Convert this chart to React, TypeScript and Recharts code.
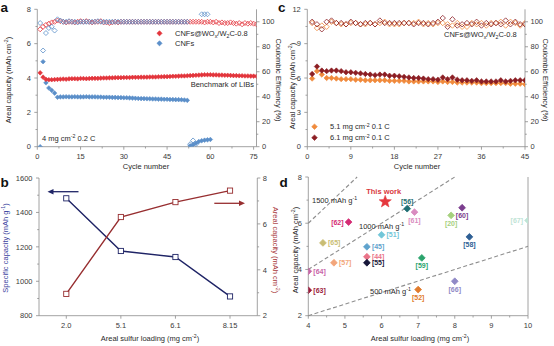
import React from 'react';
import { ComposedChart, ScatterChart, Scatter, Line, XAxis, YAxis, ReferenceLine } from 'recharts';

const FONT = '"Liberation Sans", Arial, Helvetica, sans-serif';
const AXIS_COLOR = '#8a8a8a';
const TICK_TEXT = '#3a3a3a';
const TS = 7.5;

// ---------------- Panel a data ----------------
const aWoCapacity = [
  4.3, 4.05, 3.92, 3.9, 3.9, 3.91, 3.92, 3.93, 3.94, 3.93,
  3.95, 3.96, 3.96, 3.95, 3.97, 3.97, 3.96, 3.97, 3.98, 3.98,
  3.98, 3.99, 4.0, 4.0, 4.01, 4.01, 4.02, 4.02, 4.02, 4.03,
  4.03, 4.03, 4.04, 4.04, 4.04, 4.05, 4.05, 4.05, 4.06, 4.06,
  4.06, 4.07, 4.07, 4.08, 4.08, 4.09, 4.1, 4.1, 4.11, 4.12,
  4.12, 4.13, 4.14, 4.15, 4.16, 4.17, 4.18, 4.19, 4.19, 4.19,
  4.18, 4.18, 4.17, 4.17, 4.16, 4.16, 4.15, 4.14, 4.14, 4.13,
  4.13, 4.12, 4.12, 4.11, 4.11, 4.1,
];
const aWoCE = [
  94, 96, 97.5, 98.5, 99.5, 100, 101, 100.5, 100, 99.5,
  100, 100, 99.5, 100, 100.5, 100, 100.5, 100, 99.5, 100,
  100, 100.5, 99.5, 99.5, 99, 99.5, 100, 99.5, 100, 100,
  100, 100, 100, 100, 100, 100, 100, 100, 100, 100,
  100, 100, 100, 100, 100, 100, 100, 100, 100, 100,
  100, 100, 100, 100, 100, 100, 100, 99.5, 100, 100,
  99.5, 100, 99, 99.5, 99, 99, 99.5, 99, 98.5, 99,
  98, 99, 98.5, 99, 98.5, 98,
];
const aCnfCapacity = [
  0, 4.95, 3.72, 3.42, 3.28, 3.12, 2.88, 2.9, 2.9, 2.91,
  2.9, 2.9, 2.91, 2.9, 2.9, 2.9, 2.91, 2.9, 2.9, 2.9,
  2.89, 2.89, 2.88, 2.88, 2.88, 2.87, 2.87, 2.86, 2.86, 2.85,
  2.85, 2.84, 2.83, 2.82, 2.81, 2.8, 2.8, 2.79, 2.79, 2.78,
  2.78, 2.77, 2.77, 2.76, 2.76, 2.75, 2.75, 2.74, 2.74, 2.73,
  2.72, 2.7,
];
const aCnfCE = [
  99, 77, 91, 95, 96, 93, 102, 101, 100, 100,
  100.5, 100, 100, 99.5, 100, 100, 100, 100, 100, 100,
  100.5, 100, 100, 100, 100, 100, 100, 100, 100, 100,
  100, 100, 100, 100, 100, 100, 100, 100, 100, 100,
  100, 100, 100, 100, 100, 100, 100, 100, 100, 100,
  100, 100,
];
const aCnfTailCycles = [53, 54, 55, 56, 57, 58, 59, 60];
const aCnfTailCapacity = [0.05, 0.12, 0.2, 0.3, 0.35, 0.38, 0.4, 0.42];
const aCnfTailCECycles = [53, 54, 55, 57, 58, 59];
const aCnfTailCE = [2, 5, 2, 106, 106, 106];

const aCycleTicks = [0, 15, 30, 45, 60, 75];
const aCycleMinor = [7.5, 22.5, 37.5, 52.5, 67.5];
const aCapTicks = [0, 2, 4, 6, 8];
const aCapMinor = [1, 3, 5, 7];
const ceTicks = [0, 20, 40, 60, 80, 100];
const ceMinor = [10, 30, 50, 70, 90];

// ---------------- Panel c data ----------------
const c51Capacity = [
  5.95, 6.6, 6.3, 6.0, 6.0, 5.95, 5.9, 5.9, 5.9, 5.85,
  5.85, 5.8, 5.8, 5.8, 5.8, 5.8, 5.75, 5.75, 5.75, 5.75,
  5.7, 5.7, 5.7, 5.7, 5.7, 5.7, 5.65, 5.7, 5.65, 5.65,
  5.6, 5.6, 5.6, 5.6, 5.6, 5.55, 5.55, 5.55, 5.55, 5.55,
  5.55, 5.5, 5.5, 5.5, 5.45,
];
const c61Capacity = [
  6.35, 7.0, 6.65, 6.6, 6.65, 6.65, 6.6, 6.5, 6.5, 6.45,
  6.4, 6.35, 6.3, 6.25, 6.3, 6.3, 6.2, 6.2, 6.15, 6.1,
  6.05, 6.0, 6.0, 5.95, 5.9, 5.9, 5.85, 6.05, 5.9, 6.05,
  5.85, 5.8, 5.8, 5.75, 5.8, 5.7, 5.7, 5.7, 5.7, 5.8,
  5.7, 5.75, 5.8, 5.8, 5.8,
];
const c51CE = [
  99, 95, 97, 96, 100, 99, 98, 98, 99, 99,
  98, 98, 99, 98, 99, 100, 98, 98, 98, 99,
  99, 99, 100, 98, 99, 98, 99, 99, 98, 97,
  99, 96, 96, 99, 98, 99, 97, 99, 99, 100,
  97, 100, 99, 97, 99,
];
const c61CE = [
  100, 98, 94, 100, 101, 99, 99, 98, 100, 99,
  98, 99, 99, 98, 101, 99, 99, 99, 99, 99,
  99, 98, 99, 99, 98, 99, 100, 103, 96, 102,
  97, 98, 99, 98, 100, 97, 99, 98, 99, 98,
  101, 98, 100, 98, 98,
];
const cCycleTicks = [0, 9, 18, 27, 36, 45];
const cCycleMinor = [4.5, 13.5, 22.5, 31.5, 40.5];
const cCapTicks = [0, 3, 6, 9, 12];
const cCapMinor = [1.5, 4.5, 7.5, 10.5];

// ---------------- Panel b data ----------------
const bLoading = ['2.0', '5.1', '6.1', '8.15'];
const bSpecific = [1482, 1176, 1141, 912];
const bAreal = [2.95, 6.3, 6.95, 7.45];
const bSpecTicks = [800, 1000, 1200, 1400, 1600];
const bSpecMinor = [900, 1100, 1300, 1500];
const bArealTicks = [2, 4, 6, 8];
const bArealMinor = [3, 5, 7];

// ---------------- Panel d data ----------------
const dRefs = ['[56]', '[61]', '[60]', '[20]', '[67]', '[62]', '[51]', '[65]', '[58]', '[45]', '[44]', '[57]', '[55]', '[59]', '[64]', '[63]', '[52]', '[66]'];
const dLoading = [6.7, 6.9, 8.2, 7.9, 10.0, 5.1, 6.0, 4.4, 8.4, 5.6, 5.6, 4.7, 5.6, 7.1, 4.0, 4.0, 7.0, 8.0];
const dCapacity = [6.63, 6.48, 6.67, 6.34, 6.12, 6.05, 5.5, 5.15, 5.41, 4.98, 4.55, 4.29, 4.29, 4.5, 3.92, 3.1, 3.13, 3.49];
const thisWorkLoading = [6.1];
const thisWorkCapacity = [6.93];
const dIsoSpecific = [500, 1000, 1500];
const dXTicks = [4, 5, 6, 7, 8, 9, 10];
const dXMinor = [4.5, 5.5, 6.5, 7.5, 8.5, 9.5];
const dYTicks = [2, 4, 6, 8];
const dYMinor = [3, 5, 7];

// styles for panel d (kept separate from the values)
const dColors = ['#1f6f73', '#d98cc0', '#7b3d8e', '#a6d07e', '#bfe4d6', '#d42c74', '#72c6d8', '#c9bd74', '#2e5f94', '#5fa3cd', '#ea7489', '#f2a67b', '#17173a', '#2aa36c', '#c965a9', '#9c1c3d', '#e17b2c', '#908ac6'];
const dLabelSide = ['above', 'below', 'below', 'below', 'left', 'left', 'right', 'right', 'below', 'right', 'right', 'right', 'right', 'below', 'right', 'right', 'below', 'below'];

const RED_A = '#e3353c';
const BLUE_A = '#5b8fc9';
const ORANGE_C = '#f08a3c';
const DARK_C = '#8c1e24';
const NAVY_B = '#1f2466';
const MAROON_B = '#972e30';

const seq = (vals: number[]) => vals.map((y, i) => ({ x: i + 1, y }));
const pairs = (xs: number[], ys: number[]) => xs.map((x, i) => ({ x, y: ys[i] }));

function isIn(list: any[], v: any) {
  return list.some((m) => m === v || (typeof m === 'number' && typeof v === 'number' && Math.abs(m - v) < 1e-9));
}

function tickFactory(side: 'left' | 'right' | 'bottom', majors: any[]) {
  return function Tick(props: any) {
    const { x, y, payload } = props;
    const v = payload ? payload.value : undefined;
    const major = isIn(majors, v);
    const len = major ? 3 : 1.8;
    const label = String(v);
    if (side === 'bottom') {
      return (
        <g>
          <line x1={x} y1={y} x2={x} y2={y + len} stroke={AXIS_COLOR} strokeWidth={0.8} />
          {major && (
            <text x={x} y={y + 12.3} textAnchor="middle" fontSize={TS} fill={TICK_TEXT} fontFamily={FONT}>
              {label}
            </text>
          )}
        </g>
      );
    }
    if (side === 'left') {
      return (
        <g>
          <line x1={x} y1={y} x2={x - len} y2={y} stroke={AXIS_COLOR} strokeWidth={0.8} />
          {major && (
            <text x={x - 6.5} y={y + 2.7} textAnchor="end" fontSize={TS} fill={TICK_TEXT} fontFamily={FONT}>
              {label}
            </text>
          )}
        </g>
      );
    }
    return (
      <g>
        <line x1={x} y1={y} x2={x + len} y2={y} stroke={AXIS_COLOR} strokeWidth={0.8} />
        {major && (
          <text x={x + 5.5} y={y + 2.7} textAnchor="start" fontSize={TS} fill={TICK_TEXT} fontFamily={FONT}>
            {label}
          </text>
        )}
      </g>
    );
  };
}

const axisLine = { stroke: AXIS_COLOR, strokeWidth: 0.8 };
const sorted = (a: number[], b: number[]) => [...a, ...b].sort((p, q) => p - q);

function diamondShape(color: string, r: number, hollow: boolean) {
  return function D(props: any) {
    const { cx, cy } = props;
    if (cx == null || cy == null) return <g />;
    return (
      <polygon
        points={`${cx},${cy - r} ${cx + r},${cy} ${cx},${cy + r} ${cx - r},${cy}`}
        fill={hollow ? '#fff' : color}
        fillOpacity={hollow ? 0 : 1}
        stroke={color}
        strokeWidth={hollow ? 0.8 : 0.6}
      />
    );
  };
}

function squareDot(color: string) {
  return function S(props: any) {
    const { cx, cy } = props;
    if (cx == null || cy == null) return <g />;
    return <rect x={cx - 2.6} y={cy - 2.6} width={5.2} height={5.2} fill="#fff" stroke={color} strokeWidth={0.9} />;
  };
}

type Seg = [string, string?];
function Rich(p: { x: number; y: number; segs: Seg[]; size?: number; anchor?: string; fill?: string; rotate?: number; weight?: string }) {
  const size = p.size ?? TS;
  const shift = size * 0.38;
  let prev = 'n';
  const kids = p.segs.map(([t, k = 'n'], i) => {
    const from = prev === 'sup' ? -shift : prev === 'sub' ? shift * 0.55 : 0;
    const to = k === 'sup' ? -shift : k === 'sub' ? shift * 0.55 : 0;
    prev = k;
    return (
      <tspan key={i} dy={to - from} fontSize={k === 'n' ? size : size * 0.7}>
        {t}
      </tspan>
    );
  });
  const cy = p.rotate ? p.y + size * 0.36 : p.y;
  return (
    <text
      x={p.x}
      y={cy}
      textAnchor={(p.anchor as any) ?? 'start'}
      fontSize={size}
      fill={p.fill ?? '#2a2a2a'}
      fontFamily={FONT}
      fontWeight={p.weight ?? 'normal'}
      transform={p.rotate ? `rotate(${p.rotate} ${p.x} ${p.y})` : undefined}
    >
      {kids}
    </text>
  );
}

function LegendDiamond({ x, y, color, r = 2.6 }: { x: number; y: number; color: string; r?: number }) {
  return <polygon points={`${x},${y - r} ${x + r},${y} ${x},${y + r} ${x - r},${y}`} fill={color} stroke={color} strokeWidth={0.6} />;
}

function PanelA() {
  return (
    <ComposedChart width={277} height={173} margin={{ top: 9.3, right: 0, bottom: 0, left: 0 }}>
      <XAxis type="number" dataKey="x" domain={[0, 76]} ticks={sorted(aCycleTicks, aCycleMinor)} interval={0} height={26.3}
        axisLine={axisLine} tickLine={false} tickSize={0} tickMargin={0} tick={tickFactory('bottom', aCycleTicks)} allowDataOverflow />
      <YAxis yAxisId="cap" type="number" dataKey="y" domain={[0, 8]} ticks={sorted(aCapTicks, aCapMinor)} interval={0} width={37.3}
        axisLine={axisLine} tickLine={false} tickSize={0} tickMargin={0} tick={tickFactory('left', aCapTicks)} allowDataOverflow />
      <YAxis yAxisId="ce" orientation="right" type="number" dataKey="y" domain={[0, 110]} ticks={sorted(ceTicks, ceMinor)} interval={0} width={20.5}
        axisLine={axisLine} tickLine={false} tickSize={0} tickMargin={0} tick={tickFactory('right', ceTicks)} allowDataOverflow />
      <Scatter yAxisId="ce" data={seq(aWoCE)} shape={diamondShape(RED_A, 2.5, true)} isAnimationActive={false} />
      <Scatter yAxisId="ce" data={seq(aCnfCE)} shape={diamondShape(BLUE_A, 2.5, true)} isAnimationActive={false} />
      <Scatter yAxisId="ce" data={pairs(aCnfTailCECycles, aCnfTailCE)} shape={diamondShape(BLUE_A, 2.5, true)} isAnimationActive={false} />
      <Scatter yAxisId="cap" data={seq(aCnfCapacity)} shape={diamondShape(BLUE_A, 2.3, false)} isAnimationActive={false} />
      <Scatter yAxisId="cap" data={pairs(aCnfTailCycles, aCnfTailCapacity)} shape={diamondShape(BLUE_A, 2.3, false)} isAnimationActive={false} />
      <Scatter yAxisId="cap" data={seq(aWoCapacity)} shape={diamondShape(RED_A, 2.3, false)} isAnimationActive={false} />
    </ComposedChart>
  );
}

function PanelC() {
  return (
    <ComposedChart width={277} height={173} margin={{ top: 9.3, right: 0, bottom: 0, left: 0 }}>
      <XAxis type="number" dataKey="x" domain={[0, 45]} ticks={sorted(cCycleTicks, cCycleMinor)} interval={0} height={26.3}
        axisLine={axisLine} tickLine={false} tickSize={0} tickMargin={0} tick={tickFactory('bottom', cCycleTicks)} allowDataOverflow />
      <YAxis yAxisId="cap" type="number" dataKey="y" domain={[0, 12]} ticks={sorted(cCapTicks, cCapMinor)} interval={0} width={30.3}
        axisLine={axisLine} tickLine={false} tickSize={0} tickMargin={0} tick={tickFactory('left', cCapTicks)} allowDataOverflow />
      <YAxis yAxisId="ce" orientation="right" type="number" dataKey="y" domain={[0, 110]} ticks={sorted(ceTicks, ceMinor)} interval={0} width={29}
        axisLine={axisLine} tickLine={false} tickSize={0} tickMargin={0} tick={tickFactory('right', ceTicks)} allowDataOverflow />
      <Scatter yAxisId="ce" data={seq(c51CE)} shape={diamondShape(ORANGE_C, 2.7, true)} isAnimationActive={false} />
      <Scatter yAxisId="ce" data={seq(c61CE)} shape={diamondShape(DARK_C, 2.7, true)} isAnimationActive={false} />
      <Scatter yAxisId="cap" data={seq(c51Capacity)} shape={diamondShape(ORANGE_C, 2.7, false)} isAnimationActive={false} />
      <Scatter yAxisId="cap" data={seq(c61Capacity)} shape={diamondShape(DARK_C, 2.7, false)} isAnimationActive={false} />
    </ComposedChart>
  );
}

function PanelB() {
  const data = bLoading.map((l, i) => ({ load: l, spec: bSpecific[i], areal: bAreal[i] }));
  return (
    <ComposedChart width={277} height={173} data={data} margin={{ top: 5, right: 0, bottom: 0, left: 0 }}>
      <XAxis dataKey="load" type="category" scale="band" interval={0} height={30.3}
        axisLine={axisLine} tickLine={false} tickSize={0} tickMargin={0} tick={tickFactory('bottom', bLoading)} />
      <YAxis yAxisId="spec" type="number" domain={[800, 1600]} ticks={sorted(bSpecTicks, bSpecMinor)} interval={0} width={39}
        axisLine={axisLine} tickLine={false} tickSize={0} tickMargin={0} tick={tickFactory('left', bSpecTicks)} allowDataOverflow />
      <YAxis yAxisId="areal" orientation="right" type="number" domain={[2, 8]} ticks={sorted(bArealTicks, bArealMinor)} interval={0} width={19.7}
        axisLine={axisLine} tickLine={false} tickSize={0} tickMargin={0} tick={tickFactory('right', bArealTicks)} allowDataOverflow />
      <Line yAxisId="spec" type="linear" dataKey="spec" stroke={NAVY_B} strokeWidth={1.4} dot={squareDot(NAVY_B)} activeDot={false} isAnimationActive={false} />
      <Line yAxisId="areal" type="linear" dataKey="areal" stroke={MAROON_B} strokeWidth={1.4} dot={squareDot(MAROON_B)} activeDot={false} isAnimationActive={false} />
    </ComposedChart>
  );
}

function refShape(props: any) {
  const { cx, cy, payload } = props;
  if (cx == null || cy == null || !payload) return <g />;
  const i = payload.i;
  const c = dColors[i];
  const r = 3.4;
  const side = dLabelSide[i];
  let tx = cx + 5;
  let ty = cy + 2.5;
  let anchor = 'start';
  if (side === 'left') { tx = cx - 5; anchor = 'end'; }
  if (side === 'below') { tx = cx; ty = cy + 10.5; anchor = 'middle'; }
  if (side === 'above') { tx = cx; ty = cy - 5; anchor = 'middle'; }
  return (
    <g>
      <polygon points={`${cx},${cy - r} ${cx + r},${cy} ${cx},${cy + r} ${cx - r},${cy}`} fill={c} stroke={c} strokeWidth={0.8} strokeLinejoin="round" />
      <text x={tx} y={ty} textAnchor={anchor as any} fontSize={7} fontWeight="bold" fill={c} fontFamily={FONT}>{dRefs[i]}</text>
    </g>
  );
}

function starShape(props: any) {
  const { cx, cy } = props;
  if (cx == null || cy == null) return <g />;
  const pts: string[] = [];
  for (let k = 0; k < 10; k++) {
    const rr = k % 2 === 0 ? 6.5 : 2.7;
    const a = -Math.PI / 2 + (k * Math.PI) / 5;
    pts.push(`${cx + rr * Math.cos(a)},${cy + rr * Math.sin(a)}`);
  }
  return (
    <g>
      <polygon points={pts.join(' ')} fill="#e5383e" stroke="#e5383e" strokeWidth={0.5} />
      <text x={cx - 1.5} y={cy - 8} textAnchor="middle" fontSize={7.5} fontWeight="bold" fill="#d9383e" fontFamily={FONT}>This work</text>
    </g>
  );
}

function PanelD() {
  const refData = dRefs.map((_, i) => ({ x: dLoading[i], y: dCapacity[i], i }));
  const starData = pairs(thisWorkLoading, thisWorkCapacity);
  return (
    <ScatterChart width={277} height={173} margin={{ top: 4, right: 26, bottom: 0, left: 0 }}>
      <XAxis type="number" dataKey="x" domain={[4, 10]} ticks={sorted(dXTicks, dXMinor)} interval={0} height={30.3}
        axisLine={axisLine} tickLine={false} tickSize={0} tickMargin={0} tick={tickFactory('bottom', dXTicks)} allowDataOverflow />
      <YAxis type="number" dataKey="y" domain={[2, 8]} ticks={sorted(dYTicks, dYMinor)} interval={0} width={31.3}
        axisLine={axisLine} tickLine={false} tickSize={0} tickMargin={0} tick={tickFactory('left', dYTicks)} allowDataOverflow />
      <ReferenceLine x={10} stroke={AXIS_COLOR} strokeWidth={0.8} />
      {dIsoSpecific.map((s) => {
        const xEnd = Math.min(10, 8000 / s);
        return (
          <ReferenceLine key={s} segment={[{ x: 4, y: (4 * s) / 1000 }, { x: xEnd, y: (xEnd * s) / 1000 }]}
            stroke="#8e8e8e" strokeWidth={1.1} strokeDasharray="4 2.5" ifOverflow="extendDomain" />
        );
      })}
      <Scatter data={refData} shape={refShape} isAnimationActive={false} />
      <Scatter data={starData} shape={starShape} isAnimationActive={false} />
    </ScatterChart>
  );
}

function Overlay() {
  return (
    <svg width={554} height={346} style={{ position: 'absolute', left: 0, top: 0, pointerEvents: 'none' }}>
      {/* panel letters */}
      <text x={0.5} y={12} fontSize={13.5} fontWeight="bold" fill="#111" fontFamily={FONT}>a</text>
      <text x={278} y={12} fontSize={13.5} fontWeight="bold" fill="#111" fontFamily={FONT}>c</text>
      <text x={0.5} y={187} fontSize={13.5} fontWeight="bold" fill="#111" fontFamily={FONT}>b</text>
      <text x={279.5} y={187} fontSize={13.5} fontWeight="bold" fill="#111" fontFamily={FONT}>d</text>

      {/* panel a texts */}
      <Rich x={8.5} y={80} rotate={-90} anchor="middle" segs={[['Areal capacity (mAh cm'], ['-2', 'sup'], [')']]} />
      <Rich x={279} y={80} rotate={90} anchor="middle" segs={[['Coulombic Efficiency (%)']]} />
      <Rich x={146} y={169} anchor="middle" segs={[['Cycle number']]} />
      <LegendDiamond x={159.5} y={33.3} color={RED_A} />
      <LegendDiamond x={159.5} y={43.3} color={BLUE_A} />
      <Rich x={175} y={36} segs={[['CNFs@WO'], ['x', 'sub'], ['/W'], ['2', 'sub'], ['C-0.8']]} />
      <Rich x={175} y={46} segs={[['CNFs']]} />
      <Rich x={254} y={87} anchor="end" segs={[['Benchmark of LIBs']]} />
      <Rich x={42} y={141} segs={[['4 mg cm'], ['-2', 'sup'], [' 0.2 C']]} />

      {/* panel c texts */}
      <Rich x={292.5} y={86} rotate={-90} anchor="middle" segs={[['Areal capacity (mAh cm'], ['-2', 'sup'], [')']]} />
      <Rich x={546} y={80} rotate={90} anchor="middle" segs={[['Coulombic Efficiency (%)']]} />
      <Rich x={417} y={169} anchor="middle" segs={[['Cycle number']]} />
      <Rich x={444} y={37} segs={[['CNFs@WO'], ['x', 'sub'], ['/W'], ['2', 'sub'], ['C-0.8']]} />
      <LegendDiamond x={314.5} y={126.7} color={ORANGE_C} r={2.8} />
      <LegendDiamond x={314.5} y={137.7} color={DARK_C} r={2.8} />
      <Rich x={330} y={129.4} segs={[['5.1 mg cm'], ['-2', 'sup'], [' 0.1 C']]} />
      <Rich x={330} y={140.4} segs={[['6.1 mg cm'], ['-2', 'sup'], [' 0.1 C']]} />

      {/* panel b texts */}
      <Rich x={5.5} y={248} rotate={-90} anchor="middle" fill="#3d44a0" segs={[['Specific capacity (mAh g'], ['-1', 'sup'], [')']]} />
      <Rich x={275.5} y={250} rotate={90} anchor="middle" fill="#a8383a" segs={[['Areal capacity (mAh cm'], ['-2', 'sup'], [')']]} />
      <Rich x={150} y={340.5} anchor="middle" segs={[['Areal sulfur loading (mg cm'], ['-2', 'sup'], [')']]} />
      <line x1={78.5} y1={191.7} x2={52} y2={191.7} stroke={NAVY_B} strokeWidth={1.3} />
      <polygon points="47.5,191.7 53.5,188.9 53.5,194.5" fill={NAVY_B} />
      <line x1={214.3} y1={203.3} x2={240.5} y2={203.3} stroke={MAROON_B} strokeWidth={1.3} />
      <polygon points="245,203.3 239,200.5 239,206.1" fill={MAROON_B} />

      {/* panel d texts */}
      <Rich x={295} y={250} rotate={-90} anchor="middle" segs={[['Areal capacity (mAh cm'], ['-2', 'sup'], [')']]} />
      <Rich x={420} y={340.5} anchor="middle" segs={[['Areal sulfur loading (mg cm'], ['-2', 'sup'], [')']]} />
      <Rich x={312} y={203} segs={[['1500 mAh g'], ['-1', 'sup']]} />
      <Rich x={359} y={228.5} segs={[['1000 mAh g'], ['-1', 'sup']]} />
      <Rich x={370} y={293.5} segs={[['500 mAh g'], ['-1', 'sup']]} />
    </svg>
  );
}

export default function App() {
  return (
    <div style={{ position: 'absolute', left: 0, top: 0, width: 554, height: 346, background: '#fff', overflow: 'hidden', fontFamily: FONT }}>
      <div style={{ position: 'absolute', left: 0, top: 0 }}><PanelA /></div>
      <div style={{ position: 'absolute', left: 277, top: 0 }}><PanelC /></div>
      <div style={{ position: 'absolute', left: 0, top: 173 }}><PanelB /></div>
      <div style={{ position: 'absolute', left: 277, top: 173 }}><PanelD /></div>
      <Overlay />
    </div>
  );
}
